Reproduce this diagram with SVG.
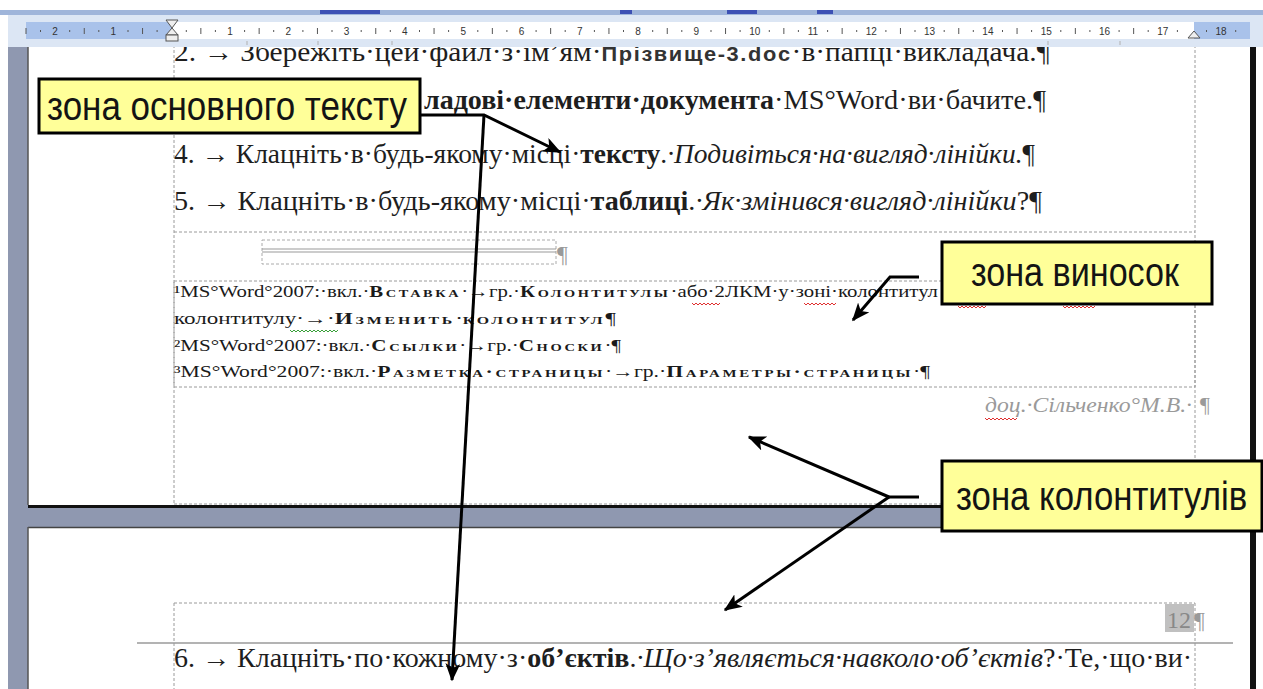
<svg xmlns="http://www.w3.org/2000/svg" width="1263" height="689" viewBox="0 0 1263 689">
<defs>
<style>
.t{font-family:"Liberation Serif","Times New Roman",serif;font-size:27px;fill:#1e1e1e}
.b{font-weight:bold}
.i{font-style:italic}
.sp{font-family:"Liberation Sans",Arial,sans-serif;font-weight:bold;letter-spacing:1.5px;font-size:20px;fill:#333}
.fn{font-family:"Liberation Serif","Times New Roman",serif;font-size:16px;fill:#1a1a1a}
.sc{font-weight:bold;font-variant:small-caps;letter-spacing:2px}
.rn{font-family:"Liberation Sans",Arial,sans-serif;font-size:10px;fill:#333;text-anchor:middle}
.dash{stroke:#9a9a9a;stroke-width:1;stroke-dasharray:3 2;fill:none}
.box{fill:#ffff99;stroke:#000;stroke-width:3}
.lbl{font-family:"Liberation Sans",Arial,sans-serif;font-size:40px;fill:#141414}
.arr{stroke:#000;stroke-width:3;fill:none;stroke-linejoin:miter}
.mk{fill:#eeeeee;stroke:#555;stroke-width:1}
.sq{fill:none;stroke-width:1}
</style>
<marker id="ah" viewBox="0 0 12 10" refX="11" refY="5" markerWidth="6" markerHeight="5" orient="auto" markerUnits="strokeWidth">
<path d="M0,0 L12,5 L0,10 L3,5 z" fill="#000"/>
</marker>
</defs>

<!-- background -->
<rect x="0" y="0" width="1263" height="689" fill="#ffffff"/>
<rect x="8" y="45" width="1248" height="644" fill="#8f98b0"/>

<!-- page 1 -->
<g id="page1">
<rect x="28" y="45" width="1222" height="460" fill="#ffffff"/>
<rect x="28" y="505" width="1228" height="3" fill="#111"/>
<rect x="1250" y="40" width="6" height="468" fill="#111"/>
<line x1="28" y1="45" x2="28" y2="505" stroke="#555" stroke-width="1.5"/>
<line class="dash" x1="174" y1="45" x2="174" y2="505"/>
<line class="dash" x1="1195" y1="40" x2="1195" y2="505"/>
<line class="dash" x1="174" y1="232" x2="1195" y2="232"/>
<rect class="dash" x="174" y="281" width="1021" height="106" stroke-width="1.5"/>
<line class="dash" x1="174" y1="504" x2="1195" y2="504"/>
</g>

<!-- page 2 -->
<g id="page2">
<rect x="28" y="527" width="1222" height="162" fill="#ffffff"/>
<line x1="28" y1="527.5" x2="1250" y2="527.5" stroke="#444" stroke-width="1.5"/>
<line x1="28" y1="527" x2="28" y2="689" stroke="#555" stroke-width="1.5"/>
<rect x="1250" y="527" width="6" height="162" fill="#111"/>
<line class="dash" x1="174" y1="603" x2="1195" y2="603"/>
<line class="dash" x1="174" y1="603" x2="174" y2="689"/>
<line class="dash" x1="1195" y1="603" x2="1195" y2="689"/>
<line x1="137" y1="643" x2="1233" y2="643" stroke="#9a9a9a" stroke-width="1.5"/>
</g>

<!-- document text -->
<g id="body-text">
<text class="t" x="174" y="61" textLength="876" lengthAdjust="spacingAndGlyphs">2. → Збережіть·цей·файл·з·ім’ям·<tspan class="sp">Прізвище-3.doc</tspan>·в·папці·викладача.¶</text>
<text class="t b" x="424" y="109" textLength="350" lengthAdjust="spacingAndGlyphs">ладові·елементи·документа</text>
<text class="t" x="774" y="109" textLength="272" lengthAdjust="spacingAndGlyphs">·MS°Word·ви·бачите.¶</text>
<text class="t" x="174" y="163" textLength="861" lengthAdjust="spacingAndGlyphs">4. → Клацніть·в·будь-якому·місці·<tspan class="b">тексту</tspan>.<tspan class="i">·Подивіться·на·вигляд·лінійки.</tspan>¶</text>
<text class="t" x="174" y="210" textLength="868" lengthAdjust="spacingAndGlyphs">5. → Клацніть·в·будь-якому·місці·<tspan class="b">таблиці</tspan>.<tspan class="i">·Як·змінився·вигляд·лінійки</tspan>?¶</text>
<g id="small-table">
<rect x="262" y="240" width="294" height="24" fill="none" stroke="#aaa" stroke-width="1" stroke-dasharray="3 2"/>
<line x1="262" y1="249" x2="556" y2="249" stroke="#999" stroke-width="1"/>
<line x1="262" y1="252" x2="556" y2="252" stroke="#999" stroke-width="1"/>
<text x="557" y="262" font-family="Liberation Serif,serif" font-size="24" fill="#999">¶</text>
</g>
<text class="fn" x="174" y="297" textLength="764" lengthAdjust="spacingAndGlyphs">¹MS°Word°2007:·вкл.·<tspan class="sc">Вставка</tspan>·→гр.·<tspan class="sc">Колонтитулы</tspan>·або·2ЛКМ·у·зоні·колонтитул</text>
<text class="fn" x="174" y="324" textLength="442" lengthAdjust="spacingAndGlyphs">колонтитулу·→·<tspan class="sc">Изменить</tspan>·<tspan class="sc">колонтитул</tspan>¶</text>
<text class="fn" x="174" y="351" textLength="447" lengthAdjust="spacingAndGlyphs">²MS°Word°2007:·вкл.·<tspan class="sc">Ссылки</tspan>·→гр.·<tspan class="sc">Сноски</tspan>·¶</text>
<text class="fn" x="174" y="377" textLength="756" lengthAdjust="spacingAndGlyphs">³MS°Word°2007:·вкл.·<tspan class="sc">Разметка·страницы</tspan>·→гр.·<tspan class="sc">Параметры·страницы</tspan>·¶</text>
<path class="sq" stroke="#e03030" d="M692,303 l2,2 l2,-2 l2,2 l2,-2 l2,2 l2,-2 l2,2 l2,-2 l2,2 l2,-2 l2,2 l2,-2 l2,2 l2,-2 M804,303 l2,2 l2,-2 l2,2 l2,-2 l2,2 l2,-2 l2,2 l2,-2 l2,2 l2,-2 l2,2 l2,-2 l2,2 l2,-2 l2,2 l2,-2 M958,306 l2,2 l2,-2 l2,2 l2,-2 l2,2 l2,-2 l2,2 l2,-2 l2,2 l2,-2 l2,2 l2,-2 l2,2 l2,-2 M1063,306 l2,2 l2,-2 l2,2 l2,-2 l2,2 l2,-2 l2,2 l2,-2 l2,2 l2,-2 l2,2 l2,-2 l2,2 l2,-2 l2,2 l2,-2"/>
<path class="sq" stroke="#3aa03a" d="M290,330 l2,2 l2,-2 l2,2 l2,-2 l2,2 l2,-2 l2,2 l2,-2 l2,2 l2,-2 l2,2 l2,-2 l2,2 l2,-2 l2,2 l2,-2 l2,2 l2,-2 l2,2 l2,-2 l2,2 l2,-2 l2,2 l2,-2"/>
</g>

<g id="footer-text">
<text x="985" y="412" font-family="Liberation Serif,serif" font-style="italic" font-size="20" fill="#9a9a9a" textLength="207" lengthAdjust="spacingAndGlyphs">доц.·Сільченко°М.В.·</text>
<text x="1200" y="412" font-family="Liberation Serif,serif" font-size="22" fill="#9a9a9a">¶</text>
<path class="sq" stroke="#e03030" d="M985,418 l2,2 l2,-2 l2,2 l2,-2 l2,2 l2,-2 l2,2 l2,-2 l2,2 l2,-2 l2,2 l2,-2 l2,2 l2,-2 l2,2 l2,-2"/>
</g>

<g id="header-text">
<rect x="1165" y="604" width="29" height="28" fill="#c0c0c0"/>
<text x="1167" y="628" font-family="Liberation Serif,serif" font-size="24" fill="#888">12</text>
<text x="1194" y="628" font-family="Liberation Serif,serif" font-size="24" fill="#999">¶</text>
</g>

<text class="t" x="174" y="667" textLength="1018" lengthAdjust="spacingAndGlyphs">6. → Клацніть·по·кожному·з·<tspan class="b">об’єктів</tspan>.<tspan class="i">·Що·з’являється·навколо·об’єктів</tspan>?·Те,·що·ви·</text>

<!-- ruler (drawn over the clipped first line) -->
<g id="ruler">
<rect x="0" y="0" width="1263" height="10" fill="#ffffff"/>
<rect x="0" y="10" width="1263" height="5" fill="#9fb5da"/>
<rect x="320" y="10" width="60" height="4" fill="#3c50b4"/>
<rect x="620" y="10" width="12" height="4" fill="#3c50b4"/>
<rect x="727" y="10" width="30" height="4" fill="#3c50b4"/>
<rect x="817" y="10" width="16" height="4" fill="#3c50b4"/>
<rect x="8" y="15" width="1255" height="32" fill="#dce6f4"/>
<rect x="26" y="22" width="146" height="17" fill="#a9c2ea"/>
<rect x="172" y="22" width="1022" height="17" fill="#ffffff"/>
<rect x="1194" y="22" width="56" height="17" fill="#a9c2ea"/>
<path stroke="#555" stroke-width="1" fill="none" d="M40.5,30v2 M69.7,30v2 M98.8,30v2 M128,30v2 M157.1,30v2 M186.3,30v2 M215.4,30v2 M244.6,30v2 M273.7,30v2 M302.9,30v2 M332,30v2 M361.2,30v2 M390.3,30v2 M419.5,30v2 M448.6,30v2 M477.8,30v2 M506.9,30v2 M536.1,30v2 M565.2,30v2 M594.4,30v2 M623.5,30v2 M652.7,30v2 M681.8,30v2 M711,30v2 M740.1,30v2 M769.3,30v2 M798.4,30v2 M827.6,30v2 M856.7,30v2 M885.9,30v2 M915,30v2 M944.2,30v2 M973.3,30v2 M1002.5,30v2 M1031.6,30v2 M1060.8,30v2 M1089.9,30v2 M1119.1,30v2 M1148.2,30v2 M1177.4,30v2 M1206.5,30v2 M1235.7,30v2"/>
<path stroke="#555" stroke-width="1" fill="none" d="M26,28v6 M84.25,28v6 M142.55,28v6 M200.85,28v6 M259.15,28v6 M317.45,28v6 M375.75,28v6 M434.05,28v6 M492.35,28v6 M550.65,28v6 M608.95,28v6 M667.25,28v6 M725.55,28v6 M783.85,28v6 M842.15,28v6 M900.45,28v6 M958.75,28v6 M1017.05,28v6 M1075.35,28v6 M1133.65,28v6"/>
<path stroke="#b0b0b0" stroke-width="1" fill="none" d="M247,41v4 M318,41v4 M392,41v4 M1048,41v4 M1120,41v4"/>
<g class="rn">
<text x="55.1" y="35">2</text><text x="113.4" y="35">1</text>
<text x="230" y="35">1</text><text x="288.3" y="35">2</text><text x="346.6" y="35">3</text><text x="404.9" y="35">4</text><text x="463.2" y="35">5</text><text x="521.5" y="35">6</text><text x="579.8" y="35">7</text><text x="638.1" y="35">8</text><text x="696.4" y="35">9</text><text x="754.7" y="35">10</text><text x="813" y="35">11</text><text x="871.3" y="35">12</text><text x="929.6" y="35">13</text><text x="987.9" y="35">14</text><text x="1046.2" y="35">15</text><text x="1104.5" y="35">16</text><text x="1162.8" y="35">17</text><text x="1221.1" y="35">18</text>
</g>
<path class="mk" d="M166,20 h12 l-6,8 z"/>
<path class="mk" d="M172,28 l6,7 h-12 z"/>
<rect class="mk" x="166" y="35" width="12" height="6"/>
<path class="mk" d="M1188,38 l6,-7 l6,7 z"/>
</g>

<!-- connectors -->
<g id="connectors">
<polyline class="arr" points="420,115 484,115 560,152" marker-end="url(#ah)"/>
<line class="arr" x1="484" y1="115" x2="452" y2="680" marker-end="url(#ah)"/>
<polyline class="arr" points="919,277 890,277 853,320" marker-end="url(#ah)"/>
<line class="arr" x1="919" y1="497" x2="889" y2="497"/>
<line class="arr" x1="889" y1="497" x2="749" y2="437" marker-end="url(#ah)"/>
<line class="arr" x1="889" y1="497" x2="725" y2="610" marker-end="url(#ah)"/>
</g>

<!-- callout boxes -->
<g id="callout-main">
<rect class="box" x="39" y="79" width="381" height="54"/>
<text class="lbl" transform="translate(47,120) scale(0.8,1)" textLength="450" lengthAdjust="spacingAndGlyphs">зона основного тексту</text>
</g>
<g id="callout-footnotes">
<rect class="box" x="942" y="242" width="270" height="62"/>
<text class="lbl" transform="translate(971,286) scale(0.8,1)" textLength="260" lengthAdjust="spacingAndGlyphs">зона виносок</text>
</g>
<g id="callout-headers">
<rect class="box" x="942" y="461" width="320" height="70"/>
<text class="lbl" transform="translate(956,510) scale(0.8,1)" textLength="364" lengthAdjust="spacingAndGlyphs">зона колонтитулів</text>
</g>
</svg>
